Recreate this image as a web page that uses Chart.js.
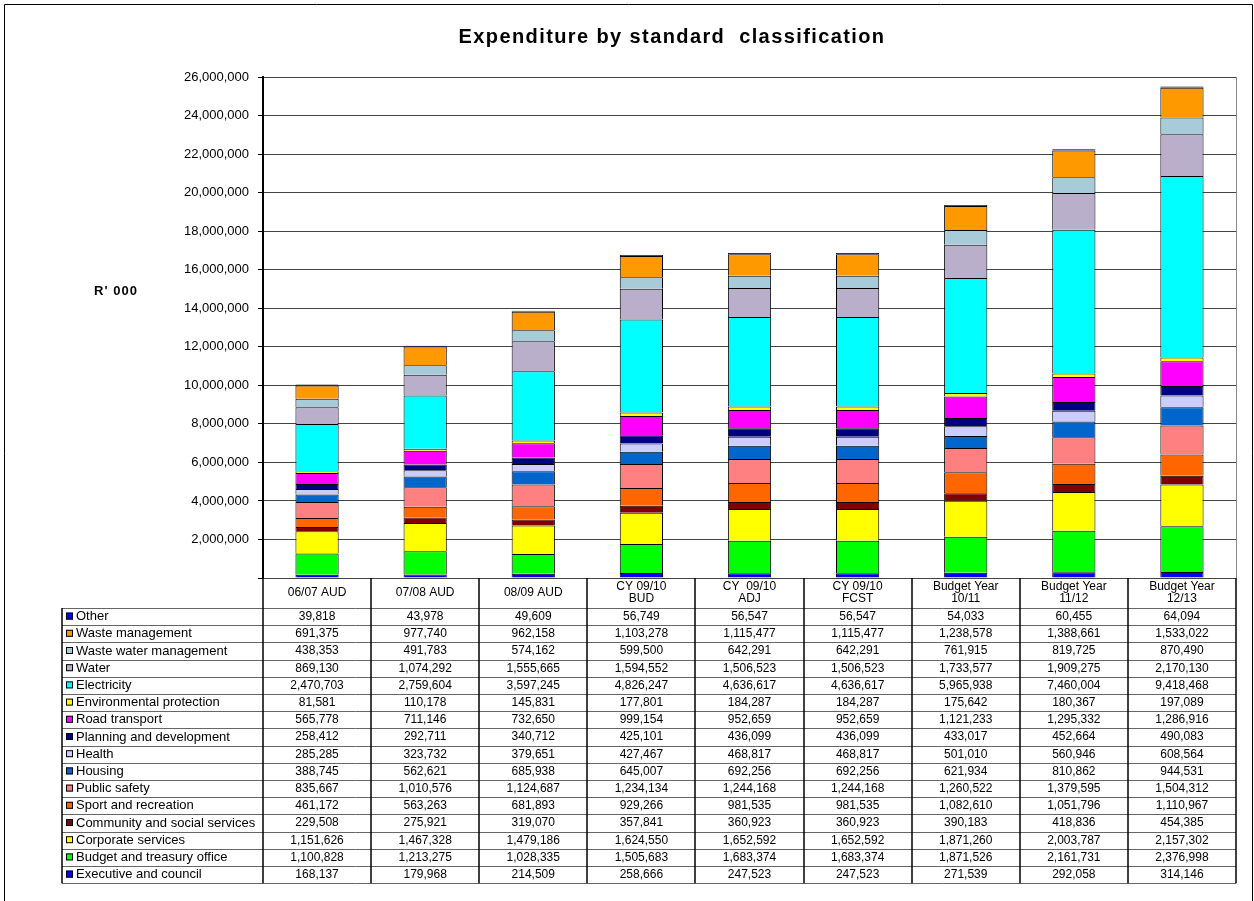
<!DOCTYPE html>
<html>
<head>
<meta charset="utf-8">
<script src="https://cdn.jsdelivr.net/npm/chart.js@4/dist/chart.umd.min.js"></script>
<style>
  html, body { margin: 0; padding: 0; background: #fff; }
  #wrap { width: 1254px; height: 901px; }
  canvas { display: block; }
</style>
</head>
<body>
<div id="wrap"><canvas id="chart"></canvas></div>
<script>
// column headings (multi-line)
const periods = [
    ['06/07 AUD'], ['07/08 AUD'], ['08/09 AUD'],
    ['CY 09/10', 'BUD'], ['CY  09/10', 'ADJ'], ['CY 09/10', 'FCST'],
    ['Budget Year', '10/11'], ['Budget Year', '11/12'], ['Budget Year', '12/13']
];

// series values, R'000 (bottom of stack first)
const executive   = [168137, 179968, 214509, 258666, 247523, 247523, 271539, 292058, 314146];
const budgetOffice = [1100828, 1213275, 1028335, 1505683, 1683374, 1683374, 1871526, 2161731, 2376998];
const corporate   = [1151626, 1467328, 1479186, 1624550, 1652592, 1652592, 1871260, 2003787, 2157302];
const community   = [229508, 275921, 319070, 357841, 360923, 360923, 390183, 418836, 454385];
const sport       = [461172, 563263, 681893, 929266, 981535, 981535, 1082610, 1051796, 1110967];
const publicSafety = [835667, 1010576, 1124687, 1234134, 1244168, 1244168, 1260522, 1379595, 1504312];
const housing     = [388745, 562621, 685938, 645007, 692256, 692256, 621934, 810862, 944531];
const health      = [285285, 323732, 379651, 427467, 468817, 468817, 501010, 560946, 608564];
const planning    = [258412, 292711, 340712, 425101, 436099, 436099, 433017, 452664, 490083];
const roadTransport = [565778, 711146, 732650, 999154, 952659, 952659, 1121233, 1295332, 1286916];
const environment = [81581, 110178, 145831, 177801, 184287, 184287, 175642, 180367, 197089];
const electricity = [2470703, 2759604, 3597245, 4826247, 4636617, 4636617, 5965938, 7460004, 9418468];
const water       = [869130, 1074292, 1555665, 1594552, 1506523, 1506523, 1733577, 1909275, 2170130];
const wasteWater  = [438353, 491783, 574162, 599500, 642291, 642291, 761915, 819725, 870490];
const wasteMgmt   = [691375, 977740, 962158, 1103278, 1115477, 1115477, 1238578, 1388661, 1533022];
const other       = [39818, 43978, 49609, 56749, 56547, 56547, 54033, 60455, 64094];

const yTicks = [0, 26000000, 2000000]; // min, max, step

const series = [
    ['Executive and council', executive, '#0000ff'],
    ['Budget and treasury office', budgetOffice, '#00ff00'],
    ['Corporate services', corporate, '#ffff00'],
    ['Community and social services', community, '#800000'],
    ['Sport and recreation', sport, '#ff6600'],
    ['Public safety', publicSafety, '#ff8080'],
    ['Housing', housing, '#0066cc'],
    ['Health', health, '#ccccff'],
    ['Planning and development', planning, '#000080'],
    ['Road transport', roadTransport, '#ff00ff'],
    ['Environmental protection', environment, '#ffff00'],
    ['Electricity', electricity, '#00ffff'],
    ['Water', water, '#b9afcb'],
    ['Waste water management', wasteWater, '#a8cbd9'],
    ['Waste management', wasteMgmt, '#ff9900'],
    ['Other', other, '#0000ff']
];

const FONT = '"Liberation Sans", Arial, sans-serif';
const fmt = v => v.toLocaleString('en-US');

// title, axis caption, frame and data table
const extras = {
    id: 'extras',
    afterDraw(chart) {
        const ctx = chart.ctx;
        const area = chart.chartArea;
        const n = periods.length;
        const cw = (area.right - area.left) / n;

        ctx.save();
        // outer frame
        ctx.strokeStyle = '#000';
        ctx.lineWidth = 1;
        ctx.beginPath();
        ctx.moveTo(4.5, 910); ctx.lineTo(4.5, 4.5); ctx.lineTo(1252.5, 4.5); ctx.lineTo(1252.5, 910);
        ctx.stroke();

        ctx.fillStyle = '#000';
        ctx.textAlign = 'center';
        ctx.textBaseline = 'middle';
        ctx.font = 'bold 20px ' + FONT;
        ctx.letterSpacing = '1.4px';
        ctx.fillText('Expenditure by standard  classification', 672, 37);

        ctx.font = 'bold 13px ' + FONT;
        ctx.letterSpacing = '1px';
        ctx.fillText("R' 000", 116, 291);
        ctx.letterSpacing = '0px';

        // right edge of plot
        ctx.strokeStyle = '#888';
        ctx.beginPath();
        ctx.moveTo(area.right + 0.5, area.top); ctx.lineTo(area.right + 0.5, area.bottom);
        ctx.stroke();

        // table
        const tLeft = 62;
        const headTop = area.bottom;
        const headBottom = headTop + 30;
        const rowH = 17.2;
        const rows = series.slice().reverse();
        const tBottom = headBottom + rows.length * rowH;

        ctx.strokeStyle = '#666';
        ctx.lineWidth = 1;
        for (let r = 0; r <= rows.length; r++) {
            const y = Math.round(headBottom + r * rowH) + 0.5;
            ctx.beginPath(); ctx.moveTo(tLeft, y); ctx.lineTo(area.right, y); ctx.stroke();
        }
        ctx.strokeStyle = '#000';
        ctx.lineWidth = 1.5;
        ctx.beginPath(); ctx.moveTo(tLeft, headBottom); ctx.lineTo(tLeft, tBottom); ctx.stroke();
        for (let i = 0; i <= n; i++) {
            const x = Math.round(area.left + i * cw);
            ctx.beginPath(); ctx.moveTo(x, headTop); ctx.lineTo(x, tBottom); ctx.stroke();
        }

        ctx.fillStyle = '#000';
        ctx.font = '12px ' + FONT;
        ctx.textAlign = 'center';
        periods.forEach((lines, i) => {
            const cx = area.left + (i + 0.5) * cw;
            const cy = (headTop + headBottom) / 2;
            lines.forEach((t, k) => {
                ctx.fillText(t, cx, cy + (k - (lines.length - 1) / 2) * 12);
            });
        });

        rows.forEach(([name, vals, color], r) => {
            const cy = headBottom + (r + 0.5) * rowH;
            ctx.fillStyle = color;
            ctx.fillRect(66, cy - 4, 7, 7);
            ctx.strokeStyle = '#000';
            ctx.lineWidth = 1;
            ctx.strokeRect(66.5, cy - 3.5, 6, 6);
            ctx.fillStyle = '#000';
            ctx.textAlign = 'left';
            ctx.font = '13px ' + FONT;
            ctx.fillText(name, 76, cy);
            ctx.textAlign = 'center';
            ctx.font = '12px ' + FONT;
            vals.forEach((v, i) => ctx.fillText(fmt(v), area.left + (i + 0.5) * cw, cy));
        });
        ctx.restore();
    }
};

new Chart(document.getElementById('chart'), {
    type: 'bar',
    data: {
        labels: periods.map(p => p.join(' ')),
        datasets: series.map(([name, vals, color]) => ({
            label: name,
            data: vals,
            backgroundColor: color,
            borderColor: '#000',
            borderWidth: 1,
            categoryPercentage: 1,
            barPercentage: 0.4
        }))
    },
    options: {
        responsive: true,
        maintainAspectRatio: false,
        animation: false,
        layout: { padding: { top: 77, bottom: 323, left: 0, right: 18 } },
        plugins: { legend: { display: false }, tooltip: { enabled: false }, title: { display: false } },
        scales: {
            x: { stacked: true, display: false },
            y: {
                stacked: true,
                min: yTicks[0],
                max: yTicks[1],
                afterFit(scale) { scale.width = 263; },
                ticks: {
                    stepSize: yTicks[2],
                    padding: 9,
                    color: '#000',
                    font: { family: FONT, size: 13 },
                    callback: v => v === 0 ? '' : fmt(v)
                },
                grid: { color: '#444', tickLength: 5, tickColor: '#000' },
                border: { color: '#000', width: 2 }
            }
        }
    },
    plugins: [extras]
});
</script>
</body>
</html>
